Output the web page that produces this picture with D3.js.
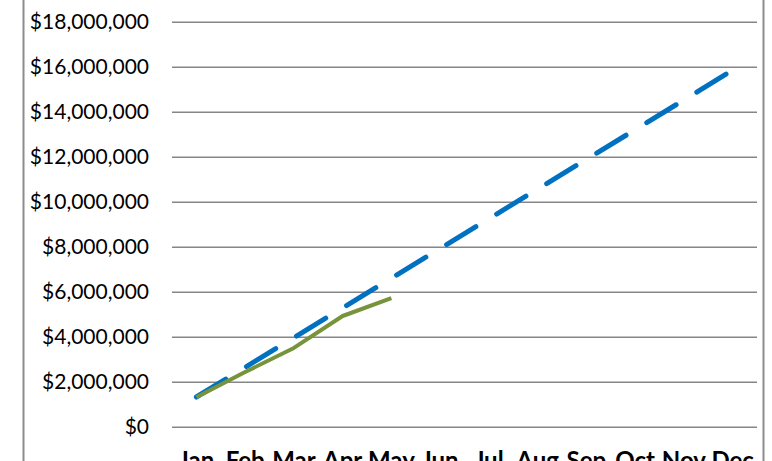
<!DOCTYPE html>
<html><head><meta charset="utf-8">
<script src="https://cdn.jsdelivr.net/npm/d3@7/dist/d3.min.js"></script>
<style>html,body{margin:0;padding:0;background:#fff;overflow:hidden}</style>
</head><body>
<svg id="c" width="772" height="461"></svg>
<script>
const months = ["Jan","Feb","Mar","Apr","May","Jun","Jul","Aug","Sep","Oct","Nov","Dec"];
const targetValues = [1320000,2640000,3960000,5280000,6600000,7920000,9240000,10560000,11880000,13200000,14520000,15850000];
const actualValues = [1310000,2430000,3500000,4920000,5710000];
const yTicks = [0,2000000,4000000,6000000,8000000,10000000,12000000,14000000,16000000,18000000];

const svg = d3.select("#c");
const x = d3.scaleBand().domain(months).range([172, 757]);
const y = d3.scaleLinear().domain([0, 18000000]).range([426.7, 21.7]);
const cx = m => x(m) + x.bandwidth()/2;

// frame
svg.append("line").attr("x1",23.5).attr("x2",23.5).attr("y1",0).attr("y2",461).attr("stroke","#8c8c8c").attr("stroke-width",2);
svg.append("line").attr("x1",763.5).attr("x2",763.5).attr("y1",0).attr("y2",461).attr("stroke","#8c8c8c").attr("stroke-width",2);

// y axis
const fmt = v => "$" + d3.format(",")(v);
const yAxis = d3.axisLeft(y).tickValues(yTicks).tickFormat(fmt).tickSize(0).tickPadding(0);
const gy = svg.append("g").attr("transform","translate(149,0)").call(yAxis);
gy.select(".domain").remove();
gy.selectAll("text").attr("font-family","Lato, 'Open Sans', sans-serif").attr("font-size",21).attr("fill","#000");

// gridlines
const grid = d3.axisLeft(y).tickValues(yTicks).tickSize(-(757-172)).tickFormat("");
const gg = svg.append("g").attr("transform","translate(172,0)").call(grid);
gg.select(".domain").remove();
gg.selectAll("line").attr("stroke","#868686").attr("stroke-width",1.6);

// x axis labels
const xAxis = d3.axisBottom(x).tickSize(0).tickPadding(0);
const gx = svg.append("g").attr("transform","translate(0,0)").call(xAxis);
gx.select(".domain").remove();
gx.selectAll("text").attr("font-family","Lato, 'Open Sans', sans-serif").attr("font-size",24).attr("font-weight","bold").attr("fill","#000").attr("dy",null).attr("y",469);

// lines
const line = d3.line().x((d,i)=>cx(months[i])).y(d=>y(d));
svg.append("path").datum(targetValues).attr("d",line).attr("fill","none")
  .attr("stroke","#0070C0").attr("stroke-width",5).attr("stroke-linecap","round")
  .attr("stroke-dasharray","34.3,24.3");
svg.append("path").datum(actualValues).attr("d",line).attr("fill","none")
  .attr("stroke","#77933C").attr("stroke-width",4).attr("stroke-linejoin","round");
</script>
</body></html>
